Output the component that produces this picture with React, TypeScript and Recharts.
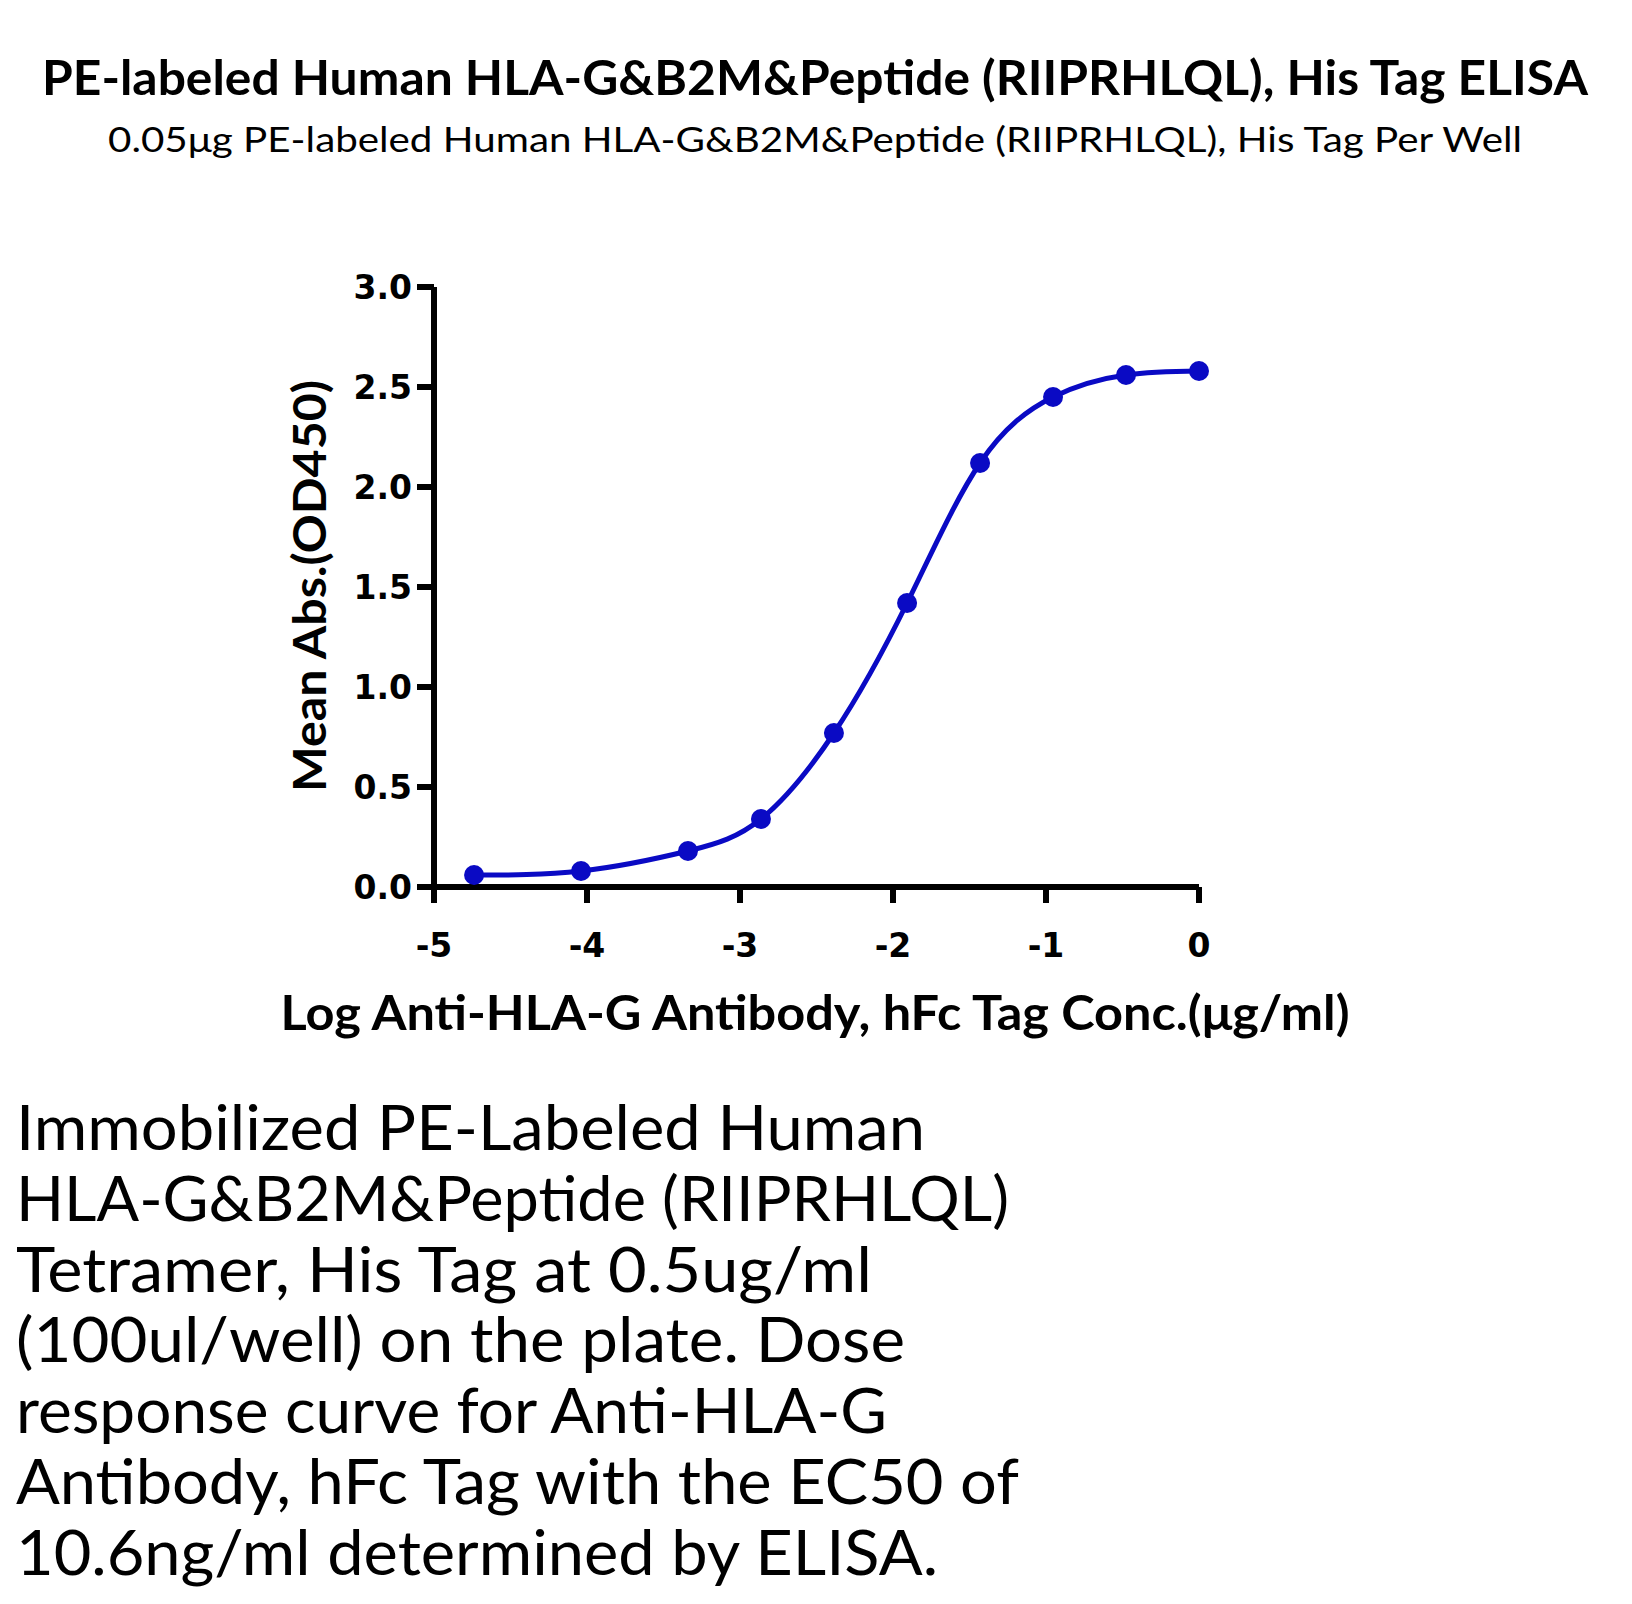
import React from "react";
import { ComposedChart, Line, XAxis, YAxis } from "recharts";

// log10 concentration (µg/ml) and mean OD450
const logConc = [-4.738, -4.039, -3.34, -2.863, -2.386, -1.908, -1.431, -0.954, -0.477, 0];
const meanAbs = [0.06, 0.08, 0.18, 0.34, 0.77, 1.42, 2.12, 2.45, 2.56, 2.58];

const xTicks = [-5, -4, -3, -2, -1, 0];
const yTicks = [0, 0.5, 1, 1.5, 2, 2.5, 3];

const title = "PE-labeled Human HLA-G&B2M&Peptide (RIIPRHLQL), His Tag ELISA";
const subtitle = "0.05μg PE-labeled Human HLA-G&B2M&Peptide (RIIPRHLQL), His Tag Per Well";
const xLabel = "Log Anti-HLA-G Antibody, hFc Tag Conc.(μg/ml)";
const yLabel = "Mean Abs.(OD450)";
const noteLines = [
  "Immobilized PE-Labeled Human",
  "HLA-G&B2M&Peptide (RIIPRHLQL)",
  "Tetramer, His Tag at 0.5ug/ml",
  "(100ul/well) on the plate. Dose",
  "response curve for Anti-HLA-G",
  "Antibody, hFc Tag with the EC50 of",
  "10.6ng/ml determined by ELISA.",
];
const noteWidths = [909, 993, 856, 889, 871, 1003, 922];

const data = logConc.map((x, i) => ({ x, y: meanAbs[i] }));

const BLUE = "#0a0ac4";
const TICK_FONT = "'DejaVu Sans', Verdana, sans-serif";
const TEXT_FONT = "Lato, 'Open Sans', sans-serif";

const axisStroke = { stroke: "#000", strokeWidth: 6 };
const tickStyle = { fill: "#000", fontSize: 33, fontWeight: 700, fontFamily: TICK_FONT };

export default function App() {
  return (
    <div
      style={{
        position: "absolute",
        left: 0,
        top: 0,
        width: 1632,
        height: 1604,
        background: "#fff",
        overflow: "hidden",
      }}
    >
      <div style={{ position: "absolute", left: 0, top: 0 }}>
        <ComposedChart
          width={1632}
          height={1100}
          data={data}
          margin={{ top: 287, right: 433, bottom: 153, left: 314 }}
        >
          <XAxis
            type="number"
            dataKey="x"
            domain={[-5, 0]}
            ticks={xTicks}
            height={60}
            tickSize={16}
            tickMargin={31}
            axisLine={axisStroke}
            tickLine={axisStroke}
            tick={tickStyle}
          />
          <YAxis
            type="number"
            domain={[0, 3]}
            ticks={yTicks}
            width={120}
            tickSize={17}
            tickMargin={5}
            axisLine={axisStroke}
            tickLine={axisStroke}
            tick={tickStyle}
            tickFormatter={(v: number) => v.toFixed(1)}
          />
          <Line
            type="natural"
            dataKey="y"
            stroke={BLUE}
            strokeWidth={5}
            dot={{ r: 10, fill: BLUE, stroke: BLUE, strokeWidth: 0 }}
            activeDot={false}
            isAnimationActive={false}
          />
        </ComposedChart>
      </div>
      <svg
        width={1632}
        height={1604}
        style={{ position: "absolute", left: 0, top: 0, pointerEvents: "none" }}
        fontFamily={TEXT_FONT}
        fill="#000"
      >
        <text x={815} y={95} textAnchor="middle" fontSize={47} fontWeight={700} textLength={1546} lengthAdjust="spacingAndGlyphs">
          {title}
        </text>
        <text x={815} y={152} textAnchor="middle" fontSize={35} textLength={1414} lengthAdjust="spacingAndGlyphs">
          {subtitle}
        </text>
        <text x={815} y={1030} textAnchor="middle" fontSize={47} fontWeight={700} textLength={1069} lengthAdjust="spacingAndGlyphs">
          {xLabel}
        </text>
        <text
          transform="translate(326 586) rotate(-90)"
          textAnchor="middle"
          fontSize={46}
          fontWeight={700}
          textLength={412}
          lengthAdjust="spacingAndGlyphs"
        >
          {yLabel}
        </text>
        {noteLines.map((line, i) => (
          <text key={i} x={16} y={1150 + i * 70.8} fontSize={62} textLength={noteWidths[i]} lengthAdjust="spacingAndGlyphs">
            {line}
          </text>
        ))}
      </svg>
    </div>
  );
}
